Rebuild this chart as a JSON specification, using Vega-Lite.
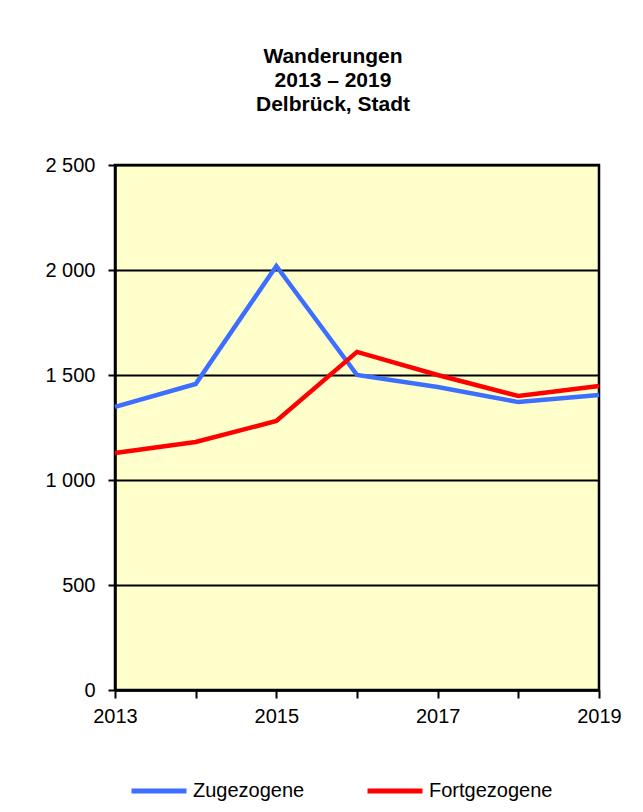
{
  "$schema": "https://vega.github.io/schema/vega-lite/v6.json",
  "width": 484,
  "height": 525,
  "autosize": "none",
  "padding": {"left": 115, "top": 165, "right": 44, "bottom": 122},
  "background": "white",
  "title": {
    "text": ["Wanderungen", "2013 – 2019", "Delbrück, Stadt"],
    "font": "Liberation Sans",
    "fontSize": 21,
    "fontWeight": "bold",
    "lineHeight": 24,
    "color": "black",
    "anchor": "middle",
    "dx": -24,
    "offset": 40
  },
  "data": {
    "values": [
      {"Jahr": 2013, "Reihe": "Zugezogene", "Wert": 1348},
      {"Jahr": 2014, "Reihe": "Zugezogene", "Wert": 1457},
      {"Jahr": 2015, "Reihe": "Zugezogene", "Wert": 2019},
      {"Jahr": 2016, "Reihe": "Zugezogene", "Wert": 1500},
      {"Jahr": 2017, "Reihe": "Zugezogene", "Wert": 1443},
      {"Jahr": 2018, "Reihe": "Zugezogene", "Wert": 1371},
      {"Jahr": 2019, "Reihe": "Zugezogene", "Wert": 1405},
      {"Jahr": 2013, "Reihe": "Fortgezogene", "Wert": 1129},
      {"Jahr": 2014, "Reihe": "Fortgezogene", "Wert": 1181},
      {"Jahr": 2015, "Reihe": "Fortgezogene", "Wert": 1281},
      {"Jahr": 2016, "Reihe": "Fortgezogene", "Wert": 1610},
      {"Jahr": 2017, "Reihe": "Fortgezogene", "Wert": 1500},
      {"Jahr": 2018, "Reihe": "Fortgezogene", "Wert": 1400},
      {"Jahr": 2019, "Reihe": "Fortgezogene", "Wert": 1448}
    ]
  },
  "mark": {"type": "line", "strokeWidth": 4.5, "strokeJoin": "miter"},
  "encoding": {
    "x": {
      "field": "Jahr",
      "type": "quantitative",
      "scale": {"domain": [2013, 2019], "nice": false, "zero": false},
      "axis": {
        "title": null,
        "values": [2013, 2014, 2015, 2016, 2017, 2018, 2019],
        "labelExpr": "datum.value % 2 == 1 ? datum.value : ''",
        "grid": false,
        "domainColor": "black",
        "domainWidth": 2.5,
        "tickColor": "black",
        "tickWidth": 2,
        "tickSize": 8,
        "labelFont": "Liberation Sans",
        "labelFontSize": 20,
        "labelColor": "black",
        "labelPadding": 8,
        "labelFlush": false
      }
    },
    "y": {
      "field": "Wert",
      "type": "quantitative",
      "scale": {"domain": [0, 2500], "nice": false},
      "axis": {
        "title": null,
        "values": [0, 500, 1000, 1500, 2000, 2500],
        "labelExpr": "replace(format(datum.value, ',d'), ',', ' ')",
        "grid": true,
        "gridColor": "black",
        "gridWidth": 2,
        "gridOpacity": 1,
        "domainColor": "black",
        "domainWidth": 2.5,
        "tickColor": "black",
        "tickWidth": 2,
        "tickSize": 7,
        "labelFont": "Liberation Sans",
        "labelFontSize": 20,
        "labelColor": "black",
        "labelPadding": 13
      }
    },
    "color": {
      "field": "Reihe",
      "type": "nominal",
      "sort": ["Zugezogene", "Fortgezogene"],
      "scale": {"domain": ["Zugezogene", "Fortgezogene"], "range": ["#3C6EFF", "#FF0000"]},
      "legend": {
        "title": null,
        "orient": "none",
        "legendX": 14,
        "legendY": 596,
        "direction": "horizontal",
        "symbolType": "stroke",
        "symbolStrokeWidth": 5,
        "symbolSize": 3025,
        "labelFont": "Liberation Sans",
        "labelFontSize": 20,
        "labelColor": "black",
        "labelOffset": 4,
        "columnPadding": 52
      }
    }
  },
  "config": {
    "view": {"fill": "#FFFFCC", "stroke": "black", "strokeWidth": 2.5}
  }
}
